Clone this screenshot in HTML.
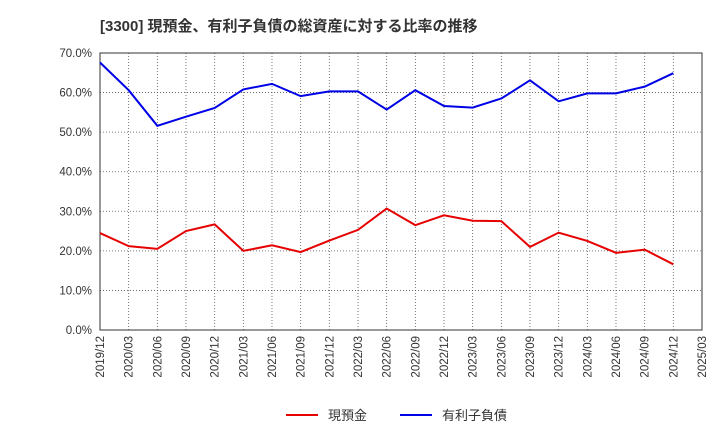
<!DOCTYPE html>
<html><head><meta charset="utf-8">
<style>
body{margin:0;background:#fff;font-family:"Liberation Sans","Noto Sans CJK JP",sans-serif;}
svg text{font-family:"Liberation Sans","Noto Sans CJK JP",sans-serif;}
</style></head>
<body>
<svg id="chart" width="720" height="440" xmlns="http://www.w3.org/2000/svg">
<text x="100" y="31" font-size="15" font-weight="bold" fill="#333">[3300]  現預金、有利子負債の総資産に対する比率の推移</text>
<g id="grid"></g><g id="axes"></g><g id="series"></g>
<g>
<line x1="286" y1="415" x2="318" y2="415" stroke="#e60000" stroke-width="2"/>
<text x="328" y="420" font-size="13" fill="#333">現預金</text>
<line x1="400" y1="415" x2="432" y2="415" stroke="#0000e6" stroke-width="2"/>
<text x="442" y="420" font-size="13" fill="#333">有利子負債</text>
</g>
</svg>
<script>
const categories=["2019/12","2020/03","2020/06","2020/09","2020/12","2021/03","2021/06","2021/09","2021/12","2022/03","2022/06","2022/09","2022/12","2023/03","2023/06","2023/09","2023/12","2024/03","2024/06","2024/09","2024/12","2025/03"];
const cashValues=[24.5,21.2,20.5,25.0,26.7,20.0,21.4,19.7,22.6,25.3,30.7,26.5,29.0,27.6,27.5,21.0,24.6,22.5,19.5,20.3,16.6];
const debtValues=[67.6,60.6,51.6,53.9,56.1,60.8,62.2,59.1,60.3,60.3,55.7,60.6,56.6,56.2,58.5,63.1,57.8,59.8,59.8,61.5,64.9];
const yTicks=[0,10,20,30,40,50,60,70];
const L=100,R=702,T=53,B=330,YMAX=70;
const ns="http://www.w3.org/2000/svg";
const x=i=>L+(R-L)*i/(categories.length-1);
const y=v=>B-(B-T)*v/YMAX;
function mk(tag,attrs,parent,txt){const e=document.createElementNS(ns,tag);for(const k in attrs)e.setAttribute(k,attrs[k]);if(txt!==undefined)e.textContent=txt;document.getElementById(parent).appendChild(e);return e;}
categories.forEach((c,i)=>{
  const g=mk("line",{x1:x(i),x2:x(i),y1:T,y2:B,stroke:"#555","stroke-width":0.8,"stroke-dasharray":"1,2"},"grid");
  
  
  const t=mk("text",{transform:`translate(${x(i)+4},${B+6}) rotate(-90)`,"text-anchor":"end","font-size":11.5,fill:"#333"},"axes",c);
  
  
});
yTicks.forEach(v=>{
  const g=mk("line",{x1:L,x2:R,y1:y(v),y2:y(v),stroke:"#555","stroke-width":0.8,"stroke-dasharray":"1,2"},"grid");
  
  
  const t=mk("text",{x:L-8,y:y(v)+4,"text-anchor":"end","font-size":11.5,fill:"#333"},"axes",v.toFixed(1)+"%");
  
  
});
const frame=mk("rect",{x:L,y:T,width:R-L,height:B-T,fill:"none",stroke:"#333","stroke-width":1},"axes");


function line(vals,color,name){
  const p=mk("polyline",{points:vals.map((v,i)=>x(i)+","+y(v)).join(" "),fill:"none",stroke:color,"stroke-width":2},"series");
  
  
}
line(cashValues,"#e60000","cash-line");
line(debtValues,"#0000e6","debt-line");
</script>
</body></html>
